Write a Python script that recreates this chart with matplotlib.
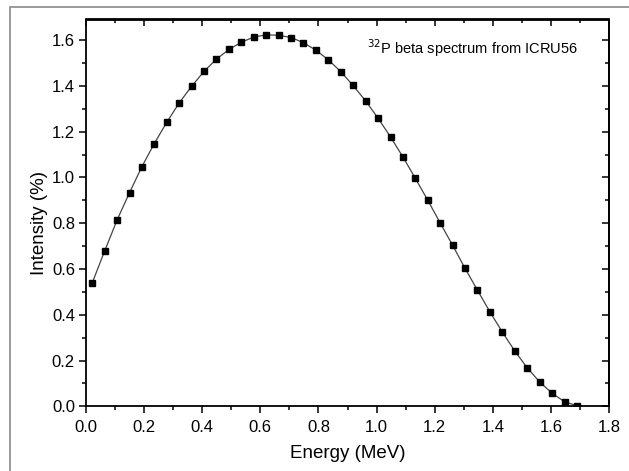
import matplotlib
matplotlib.use('Agg')
import matplotlib.pyplot as plt
from matplotlib.ticker import MultipleLocator, FormatStrFormatter
from matplotlib.patches import Rectangle

plt.rcParams['font.family'] = ['Liberation Sans', 'DejaVu Sans']

# 32P beta spectrum (ICRU56), bin mid energies in MeV
energy = [0.021, 0.064, 0.107, 0.150, 0.192, 0.235, 0.278, 0.321, 0.364, 0.406,
          0.449, 0.492, 0.535, 0.577, 0.620, 0.663, 0.706, 0.748, 0.791, 0.834,
          0.877, 0.919, 0.962, 1.005, 1.048, 1.091, 1.133, 1.176, 1.219, 1.262,
          1.304, 1.347, 1.390, 1.433, 1.475, 1.518, 1.561, 1.604, 1.647, 1.689]

# intensity in %
intensity = [0.538, 0.678, 0.814, 0.934, 1.046, 1.148, 1.241, 1.326, 1.399, 1.463,
             1.517, 1.559, 1.591, 1.613, 1.623, 1.621, 1.611, 1.589, 1.556, 1.514,
             1.462, 1.402, 1.335, 1.259, 1.177, 1.089, 0.997, 0.901, 0.801, 0.703,
             0.604, 0.508, 0.413, 0.324, 0.243, 0.169, 0.107, 0.057, 0.020, 0.003]

annotation = r'$^{32}$P beta spectrum from ICRU56'

fig = plt.figure(figsize=(6.29, 4.71), dpi=100, facecolor='w')

# grey frame around the figure (only top and left edges visible)
fig.patches.append(Rectangle((10 / 629, -0.2), 1.5, 1.2 - 7 / 471,
                             transform=fig.transFigure, fill=False,
                             edgecolor='#8a8a8a', linewidth=1.2))

ax = fig.add_axes([86 / 629, 64.7 / 471, 523 / 629, 386.8 / 471])

ax.plot(energy, intensity, '-', color='#454545', linewidth=0.9,
        marker='s', markersize=3.8, markerfacecolor='k', markeredgecolor='k')

ax.set_xlim(0, 1.8)
ax.set_ylim(0, 1.69)

ax.xaxis.set_major_locator(MultipleLocator(0.2))
ax.xaxis.set_minor_locator(MultipleLocator(0.1))
ax.yaxis.set_major_locator(MultipleLocator(0.2))
ax.yaxis.set_minor_locator(MultipleLocator(0.1))
ax.xaxis.set_major_formatter(FormatStrFormatter('%.1f'))
ax.yaxis.set_major_formatter(FormatStrFormatter('%.1f'))

for s in ax.spines.values():
    s.set_linewidth(1.3)

ax.tick_params(which='both', direction='out', width=1.1, labelsize=12)
ax.tick_params(axis='x', pad=5)
ax.tick_params(axis='y', pad=3)
ax.tick_params(which='major', length=5)
ax.tick_params(which='minor', length=3)

# mirrored axes on top and right, ticks pointing in
top = ax.secondary_xaxis('top')
top.xaxis.set_major_locator(MultipleLocator(0.2))
top.xaxis.set_minor_locator(MultipleLocator(0.1))
top.tick_params(which='both', direction='in', width=1.1, labeltop=False)
top.tick_params(which='major', length=5)
top.tick_params(which='minor', length=3)
top.spines['top'].set_linewidth(1.3)

right = ax.secondary_yaxis('right')
right.yaxis.set_major_locator(MultipleLocator(0.2))
right.yaxis.set_minor_locator(MultipleLocator(0.1))
right.tick_params(which='both', direction='in', width=1.1, labelright=False)
right.tick_params(which='major', length=5)
right.tick_params(which='minor', length=3)
right.spines['right'].set_linewidth(1.3)

ax.set_xlabel('Energy (MeV)', fontsize=13.5, labelpad=7)
ax.set_ylabel('Intensity (%)', fontsize=13.5)
ax.yaxis.set_label_coords(-0.073, 0.475)

ax.text(0.538, 0.925, annotation, transform=ax.transAxes, fontsize=10.5,
        ha='left', va='center')

fig.savefig('out.png', dpi=100, facecolor='w')
